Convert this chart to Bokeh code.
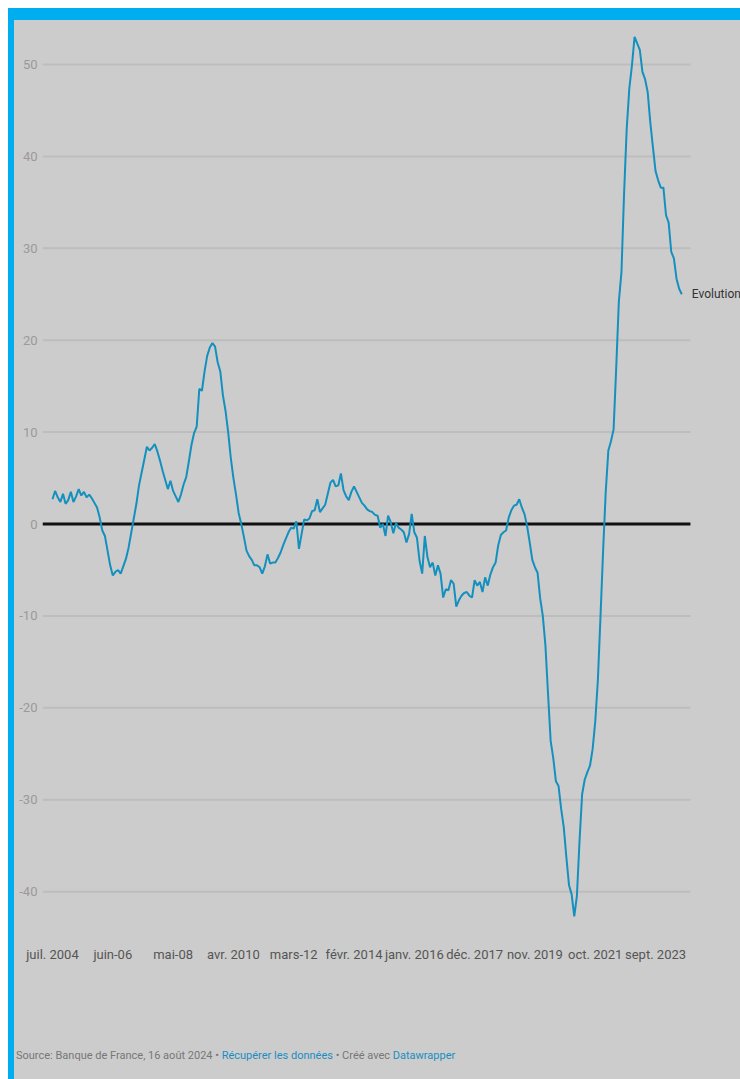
from bokeh.plotting import figure
from bokeh.models import Div, FixedTicker, Label, Range1d
from bokeh.layouts import column, row
from bokeh.embed import file_html
from bokeh.resources import INLINE

# ---- data (monthly, juil. 2004 -> juil. 2024) ----
values = [
    2.7, 3.6, 2.9, 2.4, 3.3, 2.2, 2.6, 3.5, 2.4, 3.0,
    3.8, 3.1, 3.5, 2.9, 3.2, 2.8, 2.3, 1.8, 0.7, -0.7,
    -1.3, -2.9, -4.5, -5.6, -5.2, -5.0, -5.4, -4.6, -3.8, -2.6,
    -1.0, 0.6, 2.2, 4.2, 5.6, 7.0, 8.4, 8.0, 8.3, 8.7,
    7.9, 6.9, 5.8, 4.8, 3.8, 4.7, 3.6, 3.0, 2.4, 3.2,
    4.3, 5.1, 6.8, 8.6, 9.9, 10.6, 14.7, 14.5, 16.6, 18.3,
    19.2, 19.7, 19.3, 17.6, 16.6, 14.0, 12.3, 10.0, 7.2, 5.0,
    3.2, 1.2, 0.0, -1.4, -2.9, -3.5, -3.9, -4.5, -4.5, -4.7,
    -5.4, -4.6, -3.3, -4.3, -4.2, -4.2, -3.7, -3.1, -2.3, -1.6,
    -0.9, -0.4, -0.5, 0.3, -2.7, -1.1, 0.5, 0.4, 0.6, 1.4,
    1.5, 2.7, 1.3, 1.7, 2.1, 3.3, 4.5, 4.8, 4.1, 4.2,
    5.5, 3.7, 3.0, 2.6, 3.5, 4.1, 3.5, 2.9, 2.3, 2.0,
    1.6, 1.4, 1.3, 1.0, 0.9, -0.4, 0.0, -1.3, 0.9, 0.2,
    -1.0, 0.1, -0.4, -0.6, -0.9, -2.0, -1.1, 1.1, -0.9, -1.5,
    -4.0, -5.4, -1.3, -3.6, -4.7, -4.2, -5.6, -4.5, -5.4, -8.0,
    -7.1, -7.2, -6.1, -6.5, -9.0, -8.3, -7.8, -7.5, -7.4, -7.8,
    -8.0, -6.1, -6.7, -6.3, -7.4, -5.8, -6.7, -5.5, -4.7, -4.2,
    -2.3, -1.2, -0.9, -0.7, 0.7, 1.5, 2.0, 2.1, 2.7, 1.8,
    1.1, -0.2, -2.0, -3.9, -4.7, -5.3, -8.1, -10.0, -13.2, -18.5,
    -23.6, -25.5, -28.0, -28.5, -31.0, -33.0, -36.3, -39.3, -40.3, -42.7,
    -40.5, -34.5, -29.4, -27.8, -27.0, -26.3, -24.5, -21.5, -17.0, -10.1,
    -2.9, 3.5, 8.0, 9.0, 10.3, 17.0, 24.2, 27.4, 36.0, 43.0,
    47.4, 49.9, 53.0, 52.3, 51.6, 49.2, 48.4, 47.0, 43.7, 41.0,
    38.4, 37.4, 36.6, 36.6, 33.6, 32.8, 29.6, 28.9, 26.7, 25.6,
    25.0,
]
months = list(range(len(values)))
series_name = "Evolution"

x_tick_pos = [0, 23, 46, 69, 92, 115, 138, 161, 184, 207, 230]
x_tick_labels = ["juil. 2004", "juin-06", "mai-08", "avr. 2010", "mars-12",
                 "févr. 2014", "janv. 2016", "déc. 2017", "nov. 2019",
                 "oct. 2021", "sept. 2023"]
y_ticks = [-40, -30, -20, -10, 0, 10, 20, 30, 40, 50]
y_tick_labels = ["-40", "-30", "-20", "-10", "0", "10", "20", "30", "40", "50"]

BG = "#cccccc"
BLUE = "#00aeef"
LINE = "#1490bf"
FONT = "Roboto"

X_START, X_GRID_END, X_END = -3.81, 243.3, 262.4

p = figure(width=726, height=1010, output_backend="svg", toolbar_location=None,
           x_range=Range1d(X_START, X_END), y_range=Range1d(-44.23, 53.7),
           min_border_left=28, min_border_right=0, min_border_top=10,
           min_border_bottom=100)
p.background_fill_color = BG
p.border_fill_color = None
p.styles = {"background-color": BG}
p.outline_line_color = None
p.grid.visible = False

# axes
p.yaxis.ticker = FixedTicker(ticks=y_ticks)
p.yaxis.major_label_overrides = {t: l for t, l in zip(y_ticks, y_tick_labels)}
p.yaxis.axis_line_color = None
p.yaxis.major_tick_line_color = None
p.yaxis.minor_tick_line_color = None
p.yaxis.major_tick_out = 0
p.yaxis.minor_tick_out = 0
p.yaxis.major_label_standoff = 5
p.yaxis.major_label_text_font = FONT
p.yaxis.major_label_text_font_size = "13px"
p.yaxis.major_label_text_color = "#9a9a9a"

p.xaxis.ticker = FixedTicker(ticks=x_tick_pos)
p.xaxis.major_label_overrides = {t: l for t, l in zip(x_tick_pos, x_tick_labels)}
p.xaxis.axis_line_color = None
p.xaxis.major_tick_line_color = None
p.xaxis.minor_tick_line_color = None
p.xaxis.major_tick_out = 0
p.xaxis.minor_tick_out = 0
p.xaxis.major_label_standoff = 16
p.xaxis.major_label_text_font = FONT
p.xaxis.major_label_text_font_size = "13px"
p.xaxis.major_label_text_color = "#555555"

# horizontal gridlines (stop short of the label column, as in the original)
p.segment(x0=[X_START] * len(y_ticks), x1=[X_GRID_END] * len(y_ticks),
          y0=y_ticks, y1=y_ticks, line_color="#bdbdbd", line_width=2)
# zero baseline
p.segment(x0=[X_START], x1=[X_GRID_END], y0=[0], y1=[0],
          line_color="#111111", line_width=3)

p.line(months, values, line_color=LINE, line_width=2)

p.add_layout(Label(x=months[-1], y=values[-1], text=series_name, x_offset=10,
                   text_baseline="middle", text_font=FONT, text_font_size="12px",
                   text_color="#333333"))

top_bar = Div(width=732, height=12, margin=0, styles={"background-color": BLUE})
left_bar = Div(width=6, height=1010, margin=0, styles={"background-color": BLUE})
src = Div(
    text=('Source: Banque de France, 16 août 2024 • '
          '<span style="color:#1a8ec2">Récupérer les données</span>'
          ' • Créé avec <span style="color:#1a8ec2">Datawrapper</span>'),
    width=732, height=49, margin=0,
    styles={"background-color": BG, "color": "#777777", "font-family": FONT,
            "font-size": "11px", "padding-top": "18px", "padding-left": "2px",
            "border-left": "6px solid " + BLUE,
            "box-sizing": "border-box", "white-space": "nowrap"})

layout = column(top_bar,
                row(left_bar, p, spacing=0),
                src,
                spacing=0, margin=(8, 0, 0, 8))

open("out.html", "w").write(file_html(layout, INLINE))
